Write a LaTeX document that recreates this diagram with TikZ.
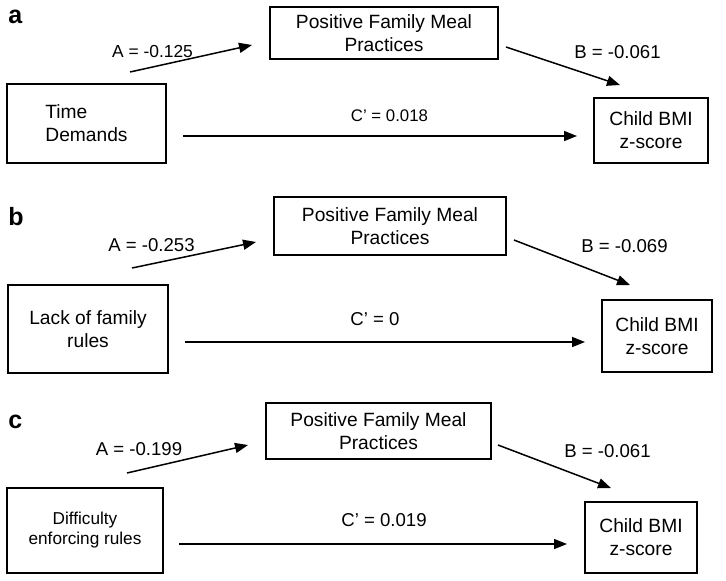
\documentclass[tikz,border=0pt]{standalone}
\usepackage{fontspec}
\setmainfont{Liberation Sans}
\usetikzlibrary{arrows.meta}

\begin{document}
\begin{tikzpicture}[x=0.5pt, y=-0.5pt, >={Triangle[length=6.5pt,width=5pt]},
  box/.style={draw, line width=0.75pt, inner sep=0pt, align=center,
    font=\fontsize{9.6}{11.5}\selectfont},
  link/.style={->, line width=0.75pt},
  lbl/.style={inner sep=0pt, font=\fontsize{9.3}{11}\selectfont},
  panel/.style={inner sep=0pt, anchor=base west, font=\fontsize{12.5}{15}\selectfont\bfseries}]
% pixel grid of the figure, y runs down
\useasboundingbox (0,0) rectangle (726,580);
% a: time demands
\node[panel] (pa) at (8,23) {a};
\node[box, minimum width=114pt, minimum height=26pt] (meda) at (384,33) {Positive Family Meal\\Practices};
\node[box, align=left, minimum width=79.5pt, minimum height=39.5pt] (xa) at (86.5,123.5) {Time\\Demands};
\node[box, minimum width=57pt, minimum height=32.5pt] (ya) at (651,130.5) {Child BMI\\z-score};
\coordinate (aA1) at (130,72); \coordinate (aA2) at (252,45);
\coordinate (aB1) at (506,47); \coordinate (aB2) at (620,85);
\coordinate (aC1) at (183,136); \coordinate (aC2) at (577,136);
\draw[link] (aA1) -- (aA2);
\draw[link] (aB1) -- (aB2);
\draw[link] (aC1) -- (aC2);
\node[lbl, font=\fontsize{8.7}{10}\selectfont] (la) at (152.5,52) {A = -0.125};
\node[lbl] (lb) at (617.5,52.5) {B = -0.061};
\node[lbl, font=\fontsize{8.4}{10}\selectfont] (lc) at (389.5,116) {C' = 0.018};
% b: lack of family rules
\node[panel] (pb) at (8,225) {b};
\node[box, minimum width=116pt, minimum height=29pt] (medb) at (390,226) {Positive Family Meal\\Practices};
\node[box, minimum width=80pt, minimum height=44pt] (xb) at (88,329) {Lack of family\\rules};
\node[box, minimum width=55pt, minimum height=36pt] (yb) at (657,336) {Child BMI\\z-score};
\coordinate (bA1) at (132,268); \coordinate (bA2) at (256,242);
\coordinate (bB1) at (514,240); \coordinate (bB2) at (630,285);
\coordinate (bC1) at (185,342); \coordinate (bC2) at (585,342);
\draw[link] (bA1) -- (bA2);
\draw[link] (bB1) -- (bB2);
\draw[link] (bC1) -- (bC2);
\node[lbl] (ma) at (151.5,245) {A = -0.253};
\node[lbl] (mb) at (624.5,246) {B = -0.069};
\node[lbl] (mc) at (375,319) {C' = 0};
% c: difficulty enforcing rules
\node[panel] (pc) at (8,428) {c};
\node[box, minimum width=112.5pt, minimum height=28pt] (medc) at (378.5,431) {Positive Family Meal\\Practices};
\node[box, font=\fontsize{8.6}{10}\selectfont, minimum width=78pt, minimum height=42.5pt] (xc) at (85,530.5) {Difficulty\\enforcing rules};
\node[box, minimum width=56pt, minimum height=35.5pt] (yc) at (641,537.5) {Child BMI\\z-score};
\coordinate (cA1) at (127,473); \coordinate (cA2) at (248,445);
\coordinate (cB1) at (498,445); \coordinate (cB2) at (611,488);
\coordinate (cC1) at (179,544); \coordinate (cC2) at (567,544);
\draw[link] (cA1) -- (cA2);
\draw[link] (cB1) -- (cB2);
\draw[link] (cC1) -- (cC2);
\node[lbl] (na) at (139,449.5) {A = -0.199};
\node[lbl] (nb) at (607.5,451) {B = -0.061};
\node[lbl] (nc) at (384,520) {C' = 0.019};
\end{tikzpicture}
\end{document}
